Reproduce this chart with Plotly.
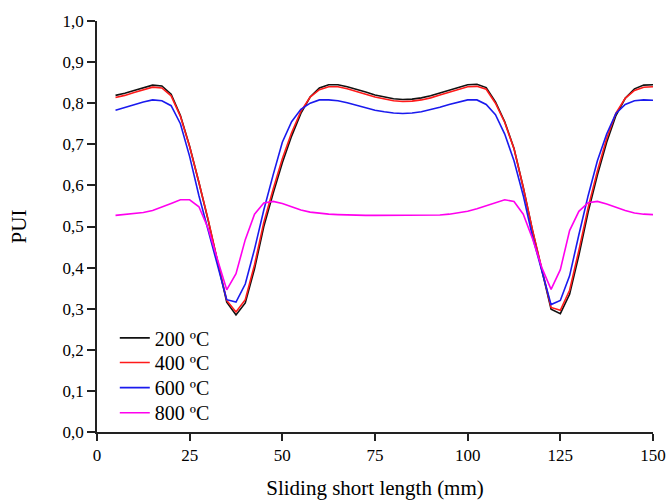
import plotly.graph_objects as go

x_mm = [5, 7.5, 10, 12.5, 15, 17.5, 20, 22.5, 25, 27.5, 30, 32.5, 35, 37.5, 40, 42.5,
        45, 47.5, 50, 52.5, 55, 57.5, 60, 62.5, 65, 67.5, 70, 72.5, 75, 77.5, 80, 82.5,
        85, 87.5, 90, 92.5, 95, 97.5, 100, 102.5, 105, 107.5, 110, 112.5, 115, 117.5,
        120, 122.5, 125, 127.5, 130, 132.5, 135, 137.5, 140, 142.5, 145, 147.5, 150]

pui_200 = [0.819, 0.824, 0.831, 0.838, 0.844, 0.842, 0.822, 0.770, 0.695, 0.607, 0.515,
           0.415, 0.316, 0.285, 0.314, 0.397, 0.500, 0.580, 0.655, 0.720, 0.775, 0.815,
           0.837, 0.845, 0.845, 0.840, 0.834, 0.827, 0.820, 0.815, 0.811, 0.809, 0.810,
           0.813, 0.818, 0.825, 0.832, 0.839, 0.845, 0.846, 0.838, 0.803, 0.755, 0.690,
           0.595, 0.490, 0.395, 0.299, 0.288, 0.335, 0.430, 0.535, 0.625, 0.705, 0.770,
           0.812, 0.835, 0.844, 0.845]

pui_400 = [0.814, 0.819, 0.826, 0.833, 0.839, 0.837, 0.818, 0.768, 0.694, 0.607, 0.516,
           0.417, 0.320, 0.292, 0.322, 0.407, 0.510, 0.590, 0.665, 0.728, 0.780, 0.815,
           0.833, 0.840, 0.840, 0.835, 0.829, 0.822, 0.815, 0.810, 0.806, 0.804, 0.805,
           0.808, 0.813, 0.820, 0.827, 0.834, 0.840, 0.841, 0.834, 0.800, 0.753, 0.689,
           0.595, 0.491, 0.397, 0.303, 0.296, 0.345, 0.442, 0.546, 0.635, 0.714, 0.776,
           0.812, 0.831, 0.839, 0.840]

pui_600 = [0.783, 0.789, 0.796, 0.803, 0.808, 0.806, 0.794, 0.750, 0.670, 0.575, 0.490,
           0.400, 0.322, 0.316, 0.360, 0.445, 0.540, 0.625, 0.705, 0.755, 0.785, 0.800,
           0.808, 0.808, 0.806, 0.801, 0.795, 0.789, 0.783, 0.779, 0.776, 0.775, 0.776,
           0.779, 0.784, 0.790, 0.797, 0.803, 0.808, 0.808, 0.797, 0.772, 0.725, 0.660,
           0.575, 0.475, 0.390, 0.310, 0.320, 0.380, 0.480, 0.575, 0.660, 0.725, 0.775,
           0.797, 0.806, 0.808, 0.807]

pui_800 = [0.527, 0.529, 0.531, 0.534, 0.539, 0.547, 0.556, 0.565, 0.565, 0.548, 0.495,
           0.420, 0.346, 0.385, 0.468, 0.530, 0.557, 0.561, 0.556, 0.548, 0.540, 0.535,
           0.532, 0.530, 0.529, 0.528, 0.527, 0.527, 0.527, 0.527, 0.527, 0.527, 0.527,
           0.527, 0.527, 0.528, 0.530, 0.533, 0.537, 0.543, 0.550, 0.558, 0.565, 0.561,
           0.530, 0.470, 0.400, 0.347, 0.395, 0.490, 0.537, 0.558, 0.561, 0.555, 0.547,
           0.539, 0.533, 0.530, 0.529]

series_names = ["200 ºC", "400 ºC", "600 ºC", "800 ºC"]
series_values = [pui_200, pui_400, pui_600, pui_800]
series_colors = ["#111111", "#ff1a1a", "#1a1aee", "#ff00ee"]

x_ticks = [0, 25, 50, 75, 100, 125, 150]
y_ticks = [0.0, 0.1, 0.2, 0.3, 0.4, 0.5, 0.6, 0.7, 0.8, 0.9, 1.0]
y_tick_labels = ["0,0", "0,1", "0,2", "0,3", "0,4", "0,5", "0,6", "0,7", "0,8", "0,9", "1,0"]

FONT = "Liberation Serif, Times New Roman, serif"

legend_ids = ["legend", "legend2", "legend3", "legend4"]
legend_y = [0.229, 0.169, 0.108, 0.047]

fig = go.Figure()
for name, vals, col, lid in zip(series_names, series_values, series_colors, legend_ids):
    fig.add_trace(go.Scatter(x=x_mm, y=vals, mode="lines", name=name, legend=lid,
                             line=dict(color=col, width=1.6)))

legend_layout = {}
for lid, ly in zip(legend_ids, legend_y):
    legend_layout[lid] = dict(x=0.032, y=ly, xanchor="left", yanchor="middle",
                              font=dict(family=FONT, size=20, color="black"),
                              bgcolor="rgba(0,0,0,0)", itemwidth=30)

fig.update_layout(
    width=668, height=500,
    margin=dict(l=97, r=15, t=21, b=68, autoexpand=False),
    paper_bgcolor="white", plot_bgcolor="white",
    font=dict(family=FONT, size=17, color="black"),
    showlegend=True,
    **legend_layout,
)

fig.update_xaxes(range=[0, 150], tickvals=x_ticks, ticktext=[str(t) for t in x_ticks],
                 showline=True, linecolor="#222", linewidth=1.5, automargin=False,
                 ticks="outside", ticklen=7, tickwidth=1.5, tickcolor="#222",
                 showgrid=False, zeroline=False,
                 tickfont=dict(family=FONT, size=17, color="black"),
                 title=dict(text="Sliding short length (mm)",
                            font=dict(family=FONT, size=21, color="black"), standoff=20))
fig.update_yaxes(range=[0, 1.0], tickvals=y_ticks, ticktext=y_tick_labels,
                 showline=True, linecolor="#222", linewidth=1.5, automargin=False,
                 ticks="outside", ticklen=8, tickwidth=1.5, tickcolor="#222",
                 showgrid=False, zeroline=False,
                 tickfont=dict(family=FONT, size=17, color="black"),
                 title=dict(text="PUI", font=dict(family=FONT, size=21, color="black"),
                            standoff=30))

fig.write_html("out.html")
